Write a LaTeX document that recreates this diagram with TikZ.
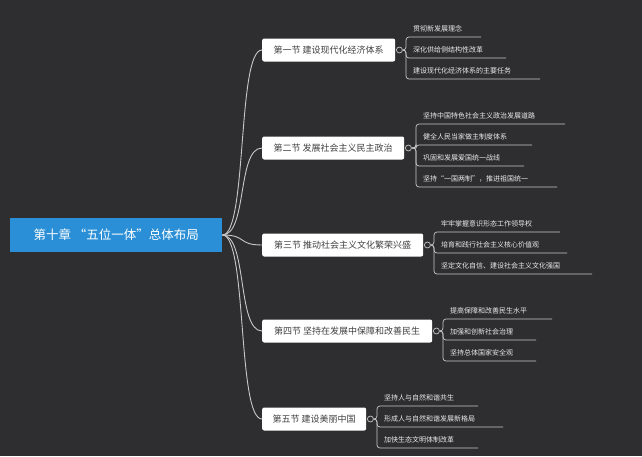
\documentclass[tikz,border=0pt]{standalone}
\usepackage{fontspec}
\usetikzlibrary{calc}
\newfontfamily\cjk{Noto Sans CJK SC}
\definecolor{bg}{HTML}{2E2E31}
\definecolor{rootblue}{HTML}{2A8FD6}
\definecolor{ln}{HTML}{C8C8C8}
\newcommand{\mkleaves}[3]{%
  \node[knob] (#1k) at ($(#1.east)+(4,0)$) {};
  \foreach \yy/\ee/\lbl [count=\i] in {#3}{
    \node[leaf] (#1c\i) at (#2+7,\yy-8) {\lbl};
    \coordinate (#1e\i) at (\ee,\yy);
    \draw[conn,line width=0.7pt,rounded corners=3pt] (#1k.east) -| (#2,\yy) -- (#1e\i);
  }}
\begin{document}
\begin{tikzpicture}[x=1pt,y=-1pt,
  sec/.style={draw=none,fill=white,rounded corners=2pt,minimum height=23pt,inner xsep=6pt,font=\cjk\fontsize{9}{10}\selectfont,text=black!75,anchor=west},
  leaf/.style={anchor=west,inner sep=0pt,font=\cjk\fontsize{7}{8}\selectfont,text=white!92!black},
  conn/.style={draw=ln,line width=0.9pt},
  knob/.style={circle,draw=ln,fill=bg,line width=0.7pt,inner sep=0pt,minimum size=6pt}]
\fill[bg] (0,0) rectangle (642,456);
\useasboundingbox (0,0) rectangle (642,456);
\node[fill=rootblue,text=white,minimum width=212pt,minimum height=34pt,font=\cjk\fontsize{12.5}{14}\selectfont,anchor=west] (root) at (10,235) {第十章 “五位一体”总体布局};
\node[sec,minimum width=133pt] (s1) at (262,50) {第一节 建设现代化经济体系};
\node[sec,minimum width=142pt] (s2) at (262,148) {第二节 发展社会主义民主政治};
\node[sec,minimum width=161pt] (s3) at (262,245) {第三节 推动社会主义文化繁荣兴盛};
\node[sec,minimum width=170pt] (s4) at (262,331) {第四节 坚持在发展中保障和改善民生};
\node[sec,minimum width=104pt] (s5) at (262,419) {第五节 建设美丽中国};
\foreach \s in {s1,s2,s3,s4,s5}{
  \draw[conn] (root.east) .. controls ++(25,0) and ($(\s.west)+(-25,0)$) .. (\s.west);
}
\mkleaves{s1}{406}{37/481/贯彻新发展理念,58/506/深化供给侧结构性改革,79/540/建设现代化经济体系的主要任务}
\mkleaves{s2}{416}{124/565/坚持中国特色社会主义政治发展道路,145/532/健全人民当家做主制度体系,166/524/巩固和发展爱国统一战线,187/557/{坚持“一国两制”，推进祖国统一}}
\mkleaves{s3}{434}{232/560/牢牢掌握意识形态工作领导权,253/567/培育和践行社会主义核心价值观,274/592/坚定文化自信、建设社会主义文化强国}
\mkleaves{s4}{443}{319/552/提高保障和改善民生水平,340/536/加强和创新社会治理,361/536/坚持总体国家安全观}
\mkleaves{s5}{377}{406/478/坚持人与自然和谐共生,427/503/形成人与自然和谐发展新格局,448/478/加快生态文明体制改革}
\end{tikzpicture}
\end{document}
